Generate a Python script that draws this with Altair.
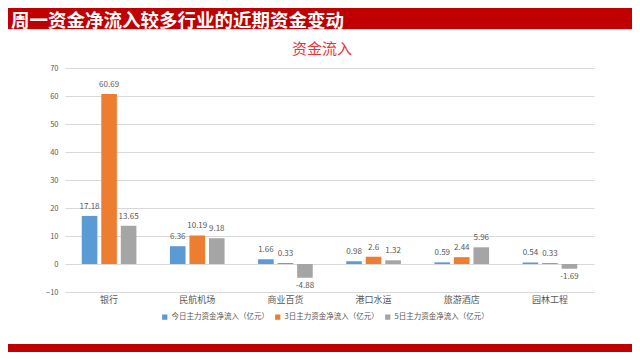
import altair as alt
import pandas as pd

categories = ["银行", "民航机场", "商业百货", "港口水运", "旅游酒店", "园林工程"]
series = ["今日主力资金净流入（亿元）", "3日主力资金净流入（亿元）", "5日主力资金净流入（亿元）"]
today = [17.18, 6.36, 1.66, 0.98, 0.59, 0.54]
three_day = [60.69, 10.19, 0.33, 2.6, 2.44, 0.33]
five_day = [13.65, 9.18, -4.88, 1.32, 5.96, -1.69]
colors = ["#5B9BD5", "#ED7D31", "#A5A5A5"]
y_ticks = [-10, 0, 10, 20, 30, 40, 50, 60, 70]
page_title = "周一资金净流入较多行业的近期资金变动"
chart_title = "资金流入"

rows = []
for s, vals in zip(series, [today, three_day, five_day]):
    for c, v in zip(categories, vals):
        rows.append({"cat": c, "series": s, "value": v, "label": f"{v:g}"})
df = pd.DataFrame(rows)

FONT = "Noto Sans CJK SC"
W, H = 529, 224

x_enc = alt.X("cat:N", sort=categories,
              scale=alt.Scale(paddingInner=0.38, paddingOuter=0.19),
              axis=alt.Axis(title=None, domain=False, ticks=False, labelPadding=3,
                            labelFontSize=9, labelColor="#595959", labelFont=FONT,
                            labelAngle=0, grid=False))
xo_enc = alt.XOffset("series:N", sort=series, scale=alt.Scale(paddingInner=0.2))
y_enc = alt.Y("value:Q", scale=alt.Scale(domain=[-10, 70], nice=False, zero=False),
              axis=alt.Axis(title=None, values=y_ticks, domain=False, ticks=False,
                            labelPadding=7, labelFontSize=7.5, labelColor="#595959",
                            labelFont=FONT, gridColor="#D9D9D9", gridWidth=1))

base = alt.Chart(df)

bars = base.mark_bar().encode(
    x=x_enc, xOffset=xo_enc, y=y_enc,
    color=alt.Color("series:N", sort=series,
                    scale=alt.Scale(domain=series, range=colors),
                    legend=alt.Legend(title=None, orient="none", direction="horizontal",
                                      legendX=96, legendY=245, symbolType="square",
                                      symbolSize=28, symbolStrokeWidth=0,
                                      labelFontSize=7.5, labelColor="#595959",
                                      labelFont=FONT, labelOffset=3, columnPadding=5,
                                      labelLimit=200))
)

pos_labels = base.transform_filter("datum.value >= 0").mark_text(
    baseline="bottom", dy=-5, fontSize=8, color="#595959", font=FONT
).encode(x=x_enc, xOffset=xo_enc, y=y_enc, text="label:N")

neg_labels = base.transform_filter("datum.value < 0").mark_text(
    baseline="top", dy=4, fontSize=8, color="#595959", font=FONT
).encode(x=x_enc, xOffset=xo_enc, y=y_enc, text="label:N")

one = alt.Data(values=[{"t": 1}])

header_bar = alt.Chart(one).mark_rect(color="#C00000").encode(
    x=alt.value(-70), x2=alt.value(600), y=alt.value(-75), y2=alt.value(-39)
)
header_line = alt.Chart(one).mark_rule(color="#E6E6E6", strokeWidth=1).encode(
    x=alt.value(-70), x2=alt.value(600), y=alt.value(-38.5)
)
header_text = alt.Chart(one).mark_text(
    align="left", baseline="middle", fontSize=18.5, fontWeight="bold",
    color="white", font=FONT
).encode(x=alt.value(-54), y=alt.value(-47.5), text=alt.value(page_title))

title_text = alt.Chart(one).mark_text(
    align="center", baseline="middle", fontSize=15, color="#E8333A", font=FONT
).encode(x=alt.value(257), y=alt.value(-19), text=alt.value(chart_title))

footer_bar = alt.Chart(one).mark_rect(color="#C00000").encode(
    x=alt.value(-70), x2=alt.value(600), y=alt.value(276), y2=alt.value(300)
)

chart = alt.layer(
    header_bar, header_line, header_text, title_text, footer_bar,
    bars, pos_labels, neg_labels
).properties(
    width=W, height=H,
    background="white",
    autosize=alt.AutoSizeParams(type="none"),
    padding={"left": 57, "top": 60, "right": 38, "bottom": 60},
).configure_view(strokeWidth=0, stroke="transparent")

chart.save("out.html", embed_options={"renderer": "svg", "actions": False})
